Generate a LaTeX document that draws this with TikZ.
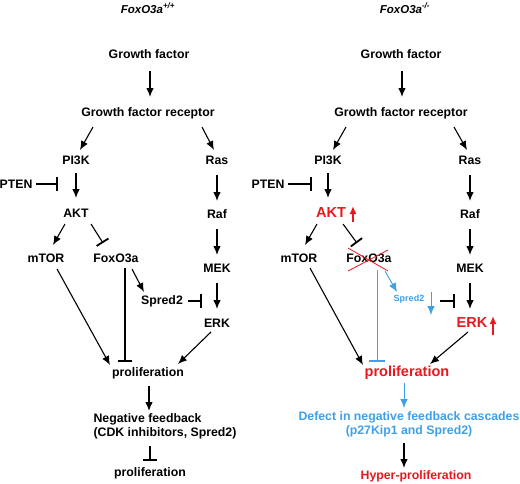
\documentclass[tikz,border=0pt]{standalone}
\usepackage{fontspec}
\setmainfont{Liberation Sans}
\usetikzlibrary{arrows.meta,calc}
\definecolor{hired}{RGB}{232,24,30}
\definecolor{hiblue}{RGB}{62,160,232}
\begin{document}
\begin{tikzpicture}[x=1pt,y=-1pt,
  lbl/.style={inner sep=0pt,font=\bfseries\fontsize{12.3}{14.5}\selectfont},
  big/.style={inner sep=0pt,font=\bfseries\fontsize{14.5}{17}\selectfont,text=hired},
  ttl/.style={inner sep=0pt,font=\bfseries\itshape\fontsize{11.5}{13}\selectfont},
  arr/.style={line width=1.1pt,-{Latex[length=9pt,width=7.5pt]}},
  inh/.style={line width=1.1pt,-{Bar[width=14pt,line width=1.8pt]}},
  barr/.style={line width=0.9pt,hiblue,-{Latex[length=9pt,width=7.5pt]}},
  binh/.style={line width=0.9pt,hiblue,-{Bar[width=16pt,line width=1.8pt]}},
  rarr/.style={line width=1.8pt,hired,-{Latex[length=8pt,width=7pt]}},
  cross/.style={line width=0.8pt,hired}]
\useasboundingbox (0,0) rectangle (520,483);
% ---------------- left panel ----------------
\node[ttl] (tL) at (148,8) {FoxO3a\textsuperscript{+/+}};
\node[lbl] (gfL) at (149,54) {Growth factor};
\node[lbl] (gfrL) at (148,113) {Growth factor receptor};
\node[lbl] (pi3kL) at (76,160) {PI3K};
\node[lbl] (rasL) at (217,160) {Ras};
\node[lbl] (ptenL) at (16,184) {PTEN};
\node[lbl] (aktL) at (76,213) {AKT};
\node[lbl] (rafL) at (217,214) {Raf};
\node[lbl] (mtorL) at (46,258) {mTOR};
\node[lbl] (foxL) at (116,258) {FoxO3a};
\node[lbl] (mekL) at (217,268) {MEK};
\node[lbl] (spredL) at (162,301) {Spred2};
\node[lbl] (erkL) at (217,323) {ERK};
\node[lbl] (proL) at (148,373) {proliferation};
\node[lbl,align=left] (nfL) at (165,426.5) {Negative feedback\\(CDK inhibitors, Spred2)};
\node[lbl] (pro2L) at (150,473) {proliferation};

\draw[arr] ($(gfL)+(1,17)$) -- ($(gfrL)+(2,-16)$);
\draw[arr] ($(gfrL)+(-55,14)$) -- ($(pi3kL)+(4,-10)$);
\draw[arr] ($(gfrL)+(54,14)$) -- ($(rasL)+(-3,-10)$);
\draw[inh] ($(ptenL)+(20,0)$) -- ($(ptenL)+(42,0)$);
\draw[arr] ($(pi3kL)+(0,13)$) -- ($(aktL)+(0,-15)$);
\draw[arr] ($(rasL)+(0,15)$) -- ($(rafL)+(0,-13)$);
\draw[arr] ($(aktL)+(-11,11)$) -- ($(mtorL)+(7,-13)$);
\draw[inh] ($(aktL)+(15,11)$) -- ($(foxL)+(-13,-15)$);
\draw[arr] ($(rafL)+(0,15)$) -- ($(mekL)+(0,-13)$);
\draw[arr] ($(foxL)+(16,11)$) -- ($(spredL)+(-18,-9)$);
\draw[inh] ($(spredL)+(26,0)$) -- ($(spredL)+(40,0)$);
\draw[arr] ($(mekL)+(0,15)$) -- ($(erkL)+(0,-14)$);
\draw[arr] ($(mtorL)+(11,11)$) -- ($(proL)+(-38,-8)$);
\draw[inh] ($(foxL)+(9,10)$) -- ($(proL)+(-23,-11)$);
\draw[arr] ($(erkL)+(-6,9)$) -- ($(proL)+(30,-9)$);
\draw[arr] ($(proL)+(1,13)$) -- ($(nfL)+(-16,-15.5)$);
\draw[inh] ($(nfL)+(-15,19.5)$) -- ($(pro2L)+(0,-12)$);

% ---------------- right panel ----------------
\node[ttl] (tR) at (405,8) {FoxO3a\textsuperscript{-/-}};
\node[lbl] (gfR) at (401,54) {Growth factor};
\node[lbl] (gfrR) at (401,113) {Growth factor receptor};
\node[lbl] (pi3kR) at (328,160) {PI3K};
\node[lbl] (rasR) at (470,160) {Ras};
\node[lbl] (ptenR) at (268,184) {PTEN};
\node[big] (aktR) at (331,213) {AKT};
\node[lbl] (rafR) at (470,214) {Raf};
\node[lbl] (mtorR) at (299,258) {mTOR};
\node[lbl] (foxR) at (369,258) {FoxO3a};
\node[lbl] (mekR) at (470,268) {MEK};
\node[inner sep=0pt,font=\bfseries\fontsize{9}{11}\selectfont,text=hiblue] (spredR) at (409,299) {Spred2};
\node[big] (erkR) at (472,323) {ERK};
\node[big] (proR) at (407,373) {proliferation};
\node[lbl,align=center,text=hiblue] (dfR) at (409,424.5) {Defect in negative feedback cascades\\(p27Kip1 and Spred2)};
\node[lbl,text=hired] (hypR) at (416,476) {Hyper-proliferation};

\draw[arr] ($(gfR)+(1,17)$) -- ($(gfrR)+(1,-16)$);
\draw[arr] ($(gfrR)+(-55,14)$) -- ($(pi3kR)+(5,-10)$);
\draw[arr] ($(gfrR)+(53,14)$) -- ($(rasR)+(-3,-10)$);
\draw[inh] ($(ptenR)+(20,0)$) -- ($(ptenR)+(44,0)$);
\draw[arr] ($(pi3kR)+(0,13)$) -- ($(aktR)+(-3,-15)$);
\draw[rarr] ($(aktR)+(22,9)$) -- ($(aktR)+(22,-7)$);
\draw[arr] ($(rasR)+(0,15)$) -- ($(rafR)+(0,-13)$);
\draw[arr] ($(aktR)+(-14,11)$) -- ($(mtorR)+(6,-13)$);
\draw[inh] ($(aktR)+(12,11)$) -- ($(foxR)+(-12,-15)$);
\draw[cross] ($(foxR)+(-21,-10)$) -- ($(foxR)+(19,13)$);
\draw[cross] ($(foxR)+(-21,13)$) -- ($(foxR)+(19,-8)$);
\draw[arr] ($(rafR)+(0,15)$) -- ($(mekR)+(0,-13)$);
\draw[barr] ($(foxR)+(16,13)$) -- ($(spredR)+(-12,-7)$);
\draw[barr] ($(spredR)+(22,-7)$) -- ($(spredR)+(22,16)$);
\draw[inh] ($(spredR)+(31,2)$) -- ($(spredR)+(46,2)$);
\draw[arr] ($(mekR)+(0,15)$) -- ($(erkR)+(-2,-14)$);
\draw[rarr] ($(erkR)+(21,12)$) -- ($(erkR)+(21,-7)$);
\draw[arr] ($(mtorR)+(11,10)$) -- ($(proR)+(-44,-8)$);
\draw[binh] ($(foxR)+(8,12)$) -- ($(proR)+(-30,-11)$);
\draw[arr] ($(erkR)+(-4,9)$) -- ($(proR)+(23,-9)$);
\draw[barr] ($(proR)+(-3,10)$) -- ($(dfR)+(-5,-16.5)$);
\draw[arr] ($(dfR)+(-5,18.5)$) -- ($(hypR)+(-12,-8)$);
\end{tikzpicture}
\end{document}
